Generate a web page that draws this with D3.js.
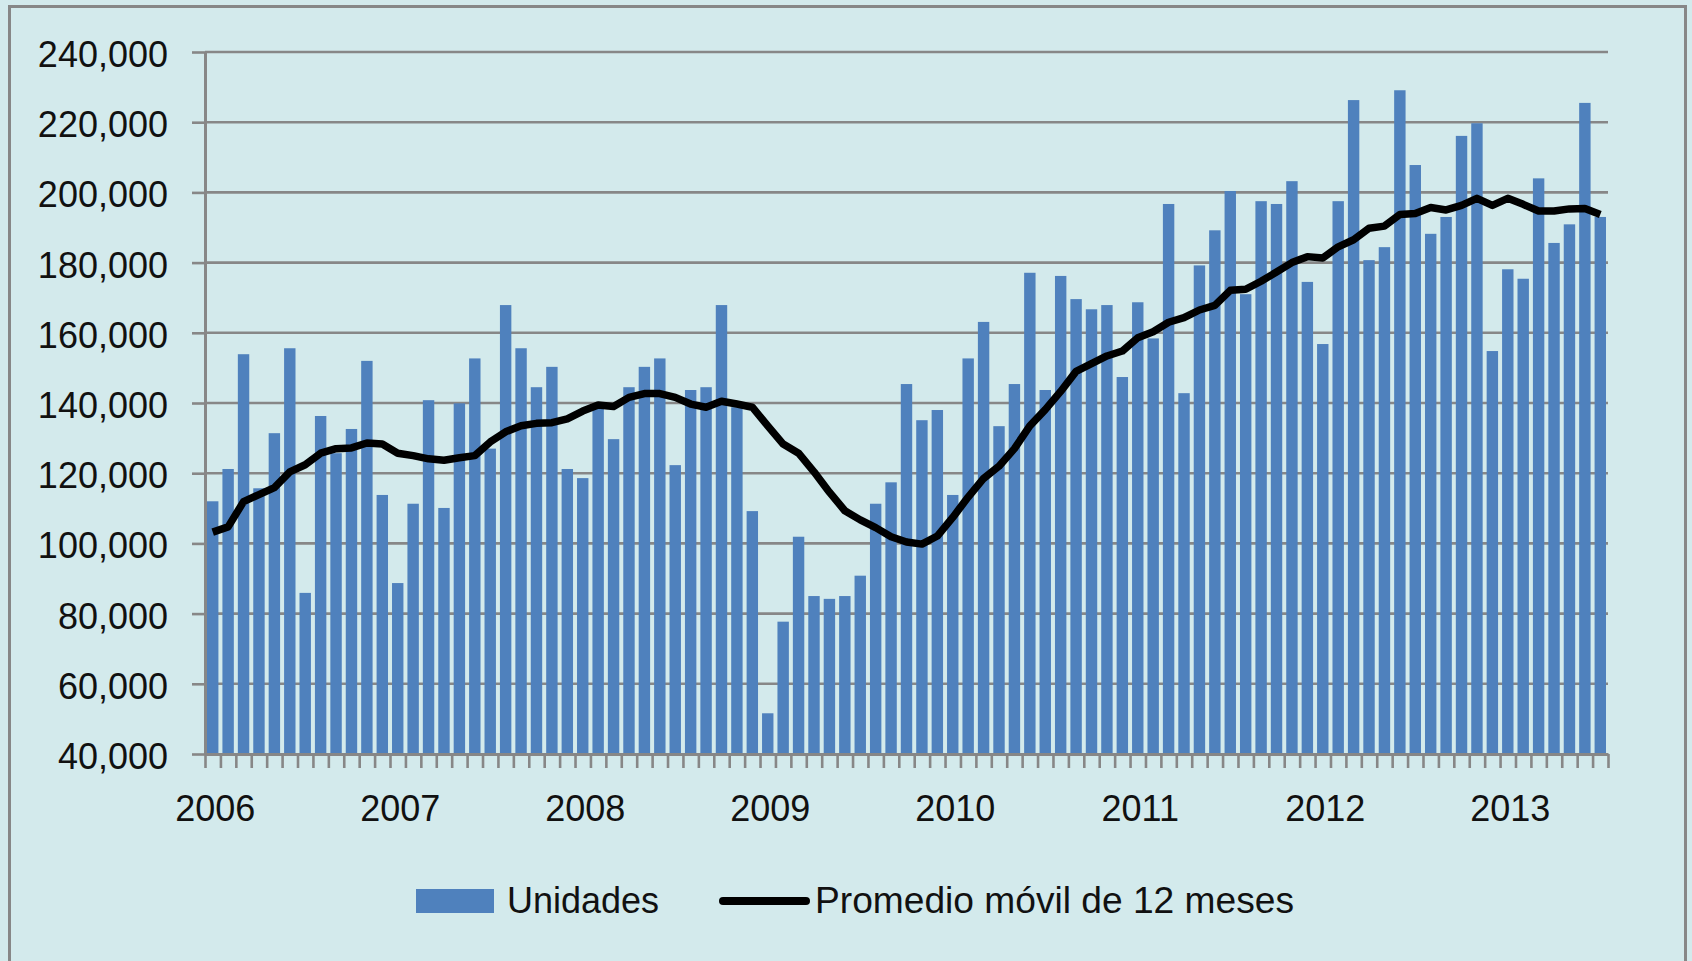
<!DOCTYPE html>
<html>
<head>
<meta charset="utf-8">
<script src="https://cdn.jsdelivr.net/npm/d3@7"></script>
<style>
  html, body { margin: 0; padding: 0; background: #d3eaec; }
  svg { display: block; font-family: "Liberation Sans", Arial, sans-serif; }
</style>
</head>
<body>
<svg width="1692" height="961"></svg>
<script>
// Ventas mensuales (unidades) y su promedio móvil de 12 meses, ene 2006 - jul 2013

var years = ["2006", "2007", "2008", "2009", "2010", "2011", "2012", "2013"];
var monthsLastYear = 7;

var unidades = [
  112000, 121200, 153900, 115700, 131400, 155600, 85900, 136300, 125700, 132600, 152000, 113800,
  88700, 111300, 140800, 110100, 139900, 152700, 127000, 167900, 155600, 144500, 150300, 121200,
  118600, 138800, 129700, 144500, 150300, 152700, 122300, 143700, 144500, 167900, 138800, 109200,
  51600, 77700, 101900, 85000, 84200, 85000, 90800, 111300, 117400, 145400, 135100, 138000,
  113800, 152700, 163100, 133400, 145400, 177100, 143700, 176200, 169600, 166700, 167900, 147400,
  168700, 158400, 196700, 142800, 179200, 189200, 200400, 171000, 197500, 196700, 203200, 174500,
  156800, 197500, 226300, 180700, 184400, 229100, 207800, 188200, 193000, 216100, 219700, 154800,
  178100, 175400, 204000, 185600, 190900, 225500, 193000
];

var promedio = [
  103200, 104700, 111900, 113900, 115900, 120400, 122400, 125700, 127000, 127200, 128600, 128300,
  125700, 125000, 124100, 123700, 124400, 125000, 128900, 131800, 133500, 134200, 134400, 135500,
  137700, 139400, 139000, 141600, 142700, 142700, 141600, 139700, 138800, 140500, 139700, 138800,
  133500, 128300, 125700, 120400, 114600, 109300, 106700, 104500, 101900, 100400, 99800, 102100,
  107400, 113200, 118500, 122000, 127000, 133500, 138100, 143300, 149000, 151200, 153400, 154800,
  158600, 160300, 163000, 164300, 166500, 167800, 172100, 172400, 174700, 177300, 180000, 181700,
  181300, 184500, 186500, 189800, 190400, 193700, 194000, 195700, 195000, 196300, 198300, 196300,
  198300, 196600, 194700, 194700, 195300, 195400, 193700
];

var yTicks = [40000, 60000, 80000, 100000, 120000, 140000, 160000, 180000, 200000, 220000, 240000];
var seriesNames = ["Unidades", "Promedio móvil de 12 meses"];

// month keys "2006-01" ... "2013-07"
var months = [];
years.forEach(function(yr, i) {
  var n = (i === years.length - 1) ? monthsLastYear : 12;
  for (var m = 1; m <= n; m++) months.push(yr + "-" + (m < 10 ? "0" + m : m));
});

var x0 = 205, x1 = 1608, yTop = 52, yBottom = 754;
var gridColor = "#878787";
var barColor = "#4f81bd";
var fontSize = 36;

var svg = d3.select("svg");

svg.append("rect")
  .attr("width", 1692).attr("height", 961)
  .attr("fill", "#d3eaec");

// outer frame
svg.append("rect")
  .attr("x", 9.5).attr("y", 6.5)
  .attr("width", 1676).attr("height", 1000)
  .attr("fill", "none")
  .attr("stroke", gridColor)
  .attr("stroke-width", 3);

var x = d3.scaleBand()
  .domain(months)
  .range([x0, x1])
  .paddingInner(0.26)
  .paddingOuter(0.13);

var xIndex = d3.scaleLinear()
  .domain([0, months.length])
  .range([x0, x1]);

var y = d3.scaleLinear()
  .domain([40000, 240000])
  .range([yBottom, yTop]);

// gridlines
svg.append("g")
  .selectAll("line")
  .data(yTicks.slice(1))
  .enter()
  .append("line")
  .attr("x1", x0)
  .attr("x2", x1)
  .attr("y1", function(d) { return y(d); })
  .attr("y2", function(d) { return y(d); })
  .attr("stroke", gridColor)
  .attr("stroke-width", 2.6);

// bars
svg.append("g")
  .selectAll("rect")
  .data(unidades)
  .enter()
  .append("rect")
  .attr("x", function(d, i) { return x(months[i]); })
  .attr("y", function(d) { return y(d); })
  .attr("width", x.bandwidth())
  .attr("height", function(d) { return yBottom - y(d); })
  .attr("fill", barColor);

// y axis
var yAxis = svg.append("g")
  .attr("transform", "translate(" + x0 + ",0)")
  .call(d3.axisLeft(y)
    .tickValues(yTicks)
    .tickSize(13)
    .tickSizeOuter(0)
    .tickPadding(24)
    .tickFormat(d3.format(",")));

yAxis.select(".domain").attr("stroke", gridColor).attr("stroke-width", 3);
yAxis.selectAll(".tick line").attr("stroke", gridColor).attr("stroke-width", 2.6);
yAxis.selectAll("text")
  .attr("font-size", fontSize)
  .attr("font-family", "Liberation Sans, Arial, sans-serif")
  .attr("fill", "#111")
  .attr("dy", "0.4em");

// x axis: tick marks between months
var xAxis = svg.append("g")
  .attr("transform", "translate(0," + yBottom + ")")
  .call(d3.axisBottom(xIndex)
    .tickValues(d3.range(0, months.length + 1))
    .tickSize(14)
    .tickSizeOuter(0)
    .tickFormat(""));

xAxis.select(".domain").attr("stroke", gridColor).attr("stroke-width", 3);
xAxis.selectAll(".tick line").attr("stroke", gridColor).attr("stroke-width", 2.6);

// year labels under January
var yearAxis = svg.append("g")
  .attr("transform", "translate(0," + yBottom + ")")
  .call(d3.axisBottom(x)
    .tickValues(months.filter(function(m) { return m.slice(5) === "01"; }))
    .tickSize(0)
    .tickPadding(41)
    .tickFormat(function(m) { return m.slice(0, 4); }));

yearAxis.select(".domain").remove();
yearAxis.selectAll("text")
  .attr("font-size", fontSize)
  .attr("font-family", "Liberation Sans, Arial, sans-serif")
  .attr("fill", "#111")
  .attr("dx", "0.07em");

// moving average line
var line = d3.line()
  .x(function(d, i) { return x(months[i]) + x.bandwidth() / 2; })
  .y(function(d) { return y(d); });

svg.append("path")
  .datum(promedio)
  .attr("d", line)
  .attr("fill", "none")
  .attr("stroke", "#000")
  .attr("stroke-width", 7.5)
  .attr("stroke-linejoin", "round");

// legend
var legend = svg.append("g");

legend.append("rect")
  .attr("x", 416).attr("y", 889)
  .attr("width", 78).attr("height", 24)
  .attr("fill", barColor);

legend.append("text")
  .attr("x", 507).attr("y", 913)
  .attr("font-size", fontSize)
  .attr("fill", "#111")
  .text(seriesNames[0]);

legend.append("line")
  .attr("x1", 723).attr("x2", 806)
  .attr("y1", 901).attr("y2", 901)
  .attr("stroke", "#000")
  .attr("stroke-width", 8)
  .attr("stroke-linecap", "round");

legend.append("text")
  .attr("x", 815).attr("y", 913)
  .attr("font-size", fontSize)
  .attr("fill", "#111")
  .attr("textLength", 479)
  .attr("lengthAdjust", "spacingAndGlyphs")
  .text(seriesNames[1]);
</script>
</body>
</html>
